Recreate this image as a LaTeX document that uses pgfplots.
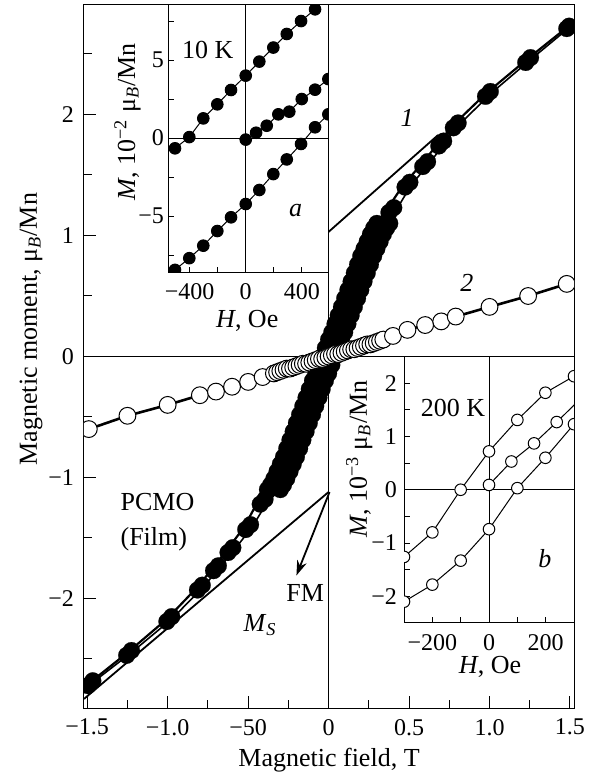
\documentclass[border=0pt]{standalone}
\usepackage{fontspec}
\setmainfont{Liberation Serif}
\usepackage{pgfplots}
\pgfplotsset{compat=1.18}
\usetikzlibrary{arrows.meta}
\newcommand\fa{\fontsize{12}{14}\selectfont}
\newcommand\fb{\fontsize{13}{15}\selectfont}
\begin{document}
\begin{tikzpicture}
\useasboundingbox (-42pt,-33.5pt) rectangle (254.5pt,354pt);
\begin{axis}[
  at={(0pt,0pt)}, anchor=south west, scale only axis, width=245pt, height=351.5pt,
  xmin=-1.52, xmax=1.525, ymin=-2.905, ymax=2.905,
  axis line style={line width=0.5pt},
  tick pos=left, tick align=inside,
  major tick length=6pt, minor tick length=4pt,
  tick style={black, line width=0.5pt},
  xtick={-1.5,-1,-0.5,0,0.5,1,1.5},
  xticklabels={−1.5,−1.0,−50,0,0.5,1.0,1.5},
  minor xtick={-1.25,-0.75,-0.25,0.25,0.75,1.25},
  ytick={-2,-1,0,1,2}, yticklabels={−2,−1,0,1,2},
  minor ytick={-2.5,-1.5,-0.5,0.5,1.5,2.5},
  tick label style={font=\fa},
  xticklabel style={yshift=-2pt},
  yticklabel style={xshift=-1.5pt},
  xlabel={Magnetic field, T},
  ylabel={Magnetic moment, μ\textsubscript{\textit{B}}/Mn},
  label style={font=\fb},
  xlabel style={at={(axis description cs:0.5,-0.0825)}, anchor=base},
  ylabel style={at={(axis description cs:-0.096,0.539)}, anchor=base},
  clip marker paths=true,
]
\addplot[black, line width=0.5pt] coordinates {(0,-2.905) (0,2.905)};
\addplot[black, line width=0.5pt] coordinates {(-1.52,0) (1.525,0)};
\addplot[black, line width=0.9pt] coordinates {(-1.52,-2.83) (0,-1.12)};
\addplot[black, line width=0.9pt] coordinates {(0,1.03) (0.68,1.83)};
% curve 1, descending branch (line)
\addplot[black, line width=1.1pt] coordinates {
(1.472,2.71) (1.228,2.45) (0.975,2.17) (0.772,1.91) (0.68,1.76) (0.578,1.59) (0.465,1.42) (0.36,1.21)
(0.30,1.10) (0.20,0.83) (0.10,0.48) (0.00,0.14) (-0.10,-0.20) (-0.20,-0.55) (-0.30,-0.89) (-0.38,-1.10)
(-0.44,-1.20) (-0.525,-1.41) (-0.632,-1.60) (-0.72,-1.75) (-0.818,-1.91) (-1.005,-2.17) (-1.252,-2.45) (-1.488,-2.70)};
% curve 1, ascending branch (line)
\addplot[black, line width=0.8pt] coordinates {
(-1.472,-2.70) (-1.228,-2.45) (-0.975,-2.17) (-0.782,-1.91) (-0.68,-1.75) (-0.588,-1.60) (-0.475,-1.41) (-0.38,-1.20)
(-0.30,-1.10) (-0.20,-0.83) (-0.10,-0.48) (0.00,-0.14) (0.10,0.20) (0.20,0.55) (0.30,0.89) (0.38,1.10)
(0.42,1.21) (0.515,1.42) (0.622,1.59) (0.72,1.76) (0.808,1.91) (1.005,2.17) (1.252,2.45) (1.488,2.71)};
% curve 1, measured points at high field (two runs)
\addplot[black, only marks, mark=*, mark size=4.2pt, mark options={solid, line width=0.1pt}] coordinates {
(1.48,2.71) (1.225,2.43) (0.975,2.15) (0.775,1.89) (0.685,1.74) (0.585,1.57) (0.475,1.40) (0.375,1.19)
(-0.395,-1.18) (-0.485,-1.39) (-0.595,-1.58) (-0.685,-1.73) (-0.785,-1.89) (-0.975,-2.15) (-1.225,-2.43) (-1.465,-2.68)};
\addplot[black, only marks, mark=*, mark size=4.2pt, mark options={solid, line width=0.1pt}] coordinates {
(1.495,2.73) (1.255,2.47) (1.005,2.19) (0.805,1.93) (0.715,1.78) (0.615,1.61) (0.505,1.44) (0.405,1.23)
(-0.425,-1.22) (-0.515,-1.43) (-0.625,-1.62) (-0.715,-1.77) (-0.815,-1.93) (-1.005,-2.19) (-1.255,-2.47) (-1.495,-2.72)};
% curve 1, dense points, descending branch
\addplot[black, only marks, mark=*, mark size=4.2pt, mark options={solid, line width=0.1pt}] coordinates {
(0.30,1.10) (0.28,1.06) (0.26,1.01) (0.24,0.95) (0.22,0.89) (0.20,0.83) (0.18,0.76) (0.16,0.69) (0.14,0.62)
(0.12,0.55) (0.10,0.48) (0.08,0.41) (0.06,0.34) (0.04,0.27) (0.02,0.20) (0.00,0.14) (-0.02,0.07) (-0.04,0)
(-0.06,-0.07) (-0.08,-0.14) (-0.10,-0.20) (-0.12,-0.27) (-0.14,-0.34) (-0.16,-0.41) (-0.18,-0.48) (-0.20,-0.55)
(-0.22,-0.62) (-0.24,-0.69) (-0.26,-0.76) (-0.28,-0.83) (-0.30,-0.89) (-0.32,-0.95) (-0.34,-1.01) (-0.36,-1.06) (-0.38,-1.10)};
% curve 1, dense points, ascending branch
\addplot[black, only marks, mark=*, mark size=4.2pt, mark options={solid, line width=0.1pt}] coordinates {
(-0.30,-1.10) (-0.28,-1.06) (-0.26,-1.01) (-0.24,-0.95) (-0.22,-0.89) (-0.20,-0.83) (-0.18,-0.76) (-0.16,-0.69)
(-0.14,-0.62) (-0.12,-0.55) (-0.10,-0.48) (-0.08,-0.41) (-0.06,-0.34) (-0.04,-0.27) (-0.02,-0.20) (0.00,-0.14)
(0.02,-0.07) (0.04,0) (0.06,0.07) (0.08,0.14) (0.10,0.20) (0.12,0.27) (0.14,0.34) (0.16,0.41) (0.18,0.48)
(0.20,0.55) (0.22,0.62) (0.24,0.69) (0.26,0.76) (0.28,0.83) (0.30,0.89) (0.32,0.95) (0.34,1.01) (0.36,1.06) (0.38,1.10)};
% curve 2
\addplot[black, line width=1.3pt, mark=*, mark size=4.2pt, mark options={solid, fill=white, line width=0.5pt}] coordinates {
(-1.49,-0.60) (-1.25,-0.49) (-1.0,-0.40) (-0.8,-0.32) (-0.7,-0.29) (-0.6,-0.25) (-0.5,-0.21) (-0.41,-0.17)
(-0.34,-0.14) (-0.32,-0.13) (-0.30,-0.12) (-0.28,-0.11) (-0.26,-0.10) (-0.24,-0.10) (-0.22,-0.09) (-0.20,-0.08)
(-0.18,-0.07) (-0.16,-0.06) (-0.14,-0.06) (-0.12,-0.05) (-0.10,-0.04) (-0.08,-0.03) (-0.06,-0.02) (-0.04,-0.02)
(-0.02,-0.01) (0,0) (0.02,0.01) (0.04,0.02) (0.06,0.02) (0.08,0.03) (0.10,0.04) (0.12,0.05) (0.14,0.06) (0.16,0.06)
(0.18,0.07) (0.20,0.08) (0.22,0.09) (0.24,0.10) (0.26,0.10) (0.28,0.11) (0.30,0.12) (0.32,0.13) (0.34,0.14)
(0.40,0.17) (0.49,0.22) (0.60,0.26) (0.70,0.29) (0.79,0.33) (1.0,0.41) (1.24,0.50) (1.48,0.60)};
\draw[-{Stealth[length=7.5pt,width=5pt]}, line width=0.9pt] (axis cs:0.006,-1.12) -- (axis cs:-0.20,-1.81);
\node[font=\fb\itshape, anchor=base] at (axis cs:0.488,1.897) {1};
\node[font=\fb\itshape, anchor=base] at (axis cs:0.86,0.533) {2};
\node[font=\fb, anchor=base west, inner sep=0pt] at (axis cs:-1.295,-1.269) {PCMO};
\node[font=\fb, anchor=base west, inner sep=0pt] at (axis cs:-1.295,-1.558) {(Film)};
\node[font=\fb, anchor=base] at (axis cs:-0.146,-2.026) {FM};
\node[font=\fb, anchor=base west, inner sep=0pt] at (axis cs:-0.531,-2.274) {\textit{M}\textsubscript{\textit{S}}};
\end{axis}
% inset a
\begin{axis}[
  at={(42pt,217.5pt)}, anchor=south west, scale only axis, width=80.25pt, height=134pt,
  xmin=-555, xmax=591, ymin=-8.65, ymax=8.53,
  axis background/.style={fill=white},
  axis line style={line width=0.5pt},
  tick pos=left, tick align=inside, major tick length=3pt,
  tick style={black, line width=0.5pt},
  xtick={-400,-200,0,200,400}, xticklabels={−400,,0,,400},
  ytick={-7.5,-5,-2.5,0,2.5,5,7.5}, yticklabels={,−5,,0,,5,},
  tick label style={font=\fa},
  xticklabel style={yshift=-1.5pt},
  yticklabel style={xshift=1.5pt},
  xlabel={\textit{H}, Oe},
  ylabel={\textit{M}, 10\textsuperscript{−2} μ\textsubscript{\textit{B}}/Mn},
  label style={font=\fb},
  xlabel style={at={(axis description cs:0.494,-0.205)}, anchor=base},
  ylabel style={at={(axis description cs:-0.205,0.565)}, anchor=base},
  clip marker paths=true,
]
\addplot[black, line width=0.5pt] coordinates {(0,-8.65) (0,8.53)};
\addplot[black, line width=0.5pt] coordinates {(-555,0) (591,0)};
\addplot[black, line width=0.5pt, mark=*, mark size=2.9pt] coordinates {
(-505,-0.66) (-403,0.06) (-303,1.26) (-203,2.16) (-105,3.08) (0,4.0) (97,4.9) (197,5.8) (293,6.67) (395,7.5) (495,8.25)};
\addplot[black, line width=0.5pt, mark=*, mark size=2.9pt] coordinates {
(0,-0.1) (74,0.34) (150,0.79) (233,1.52) (311,1.69) (400,2.5) (495,3.1) (590,3.78)};
\addplot[black, line width=0.5pt, mark=*, mark size=2.9pt] coordinates {
(-505,-8.45) (-403,-7.7) (-303,-6.9) (-203,-5.96) (-105,-5.08) (0,-4.23) (97,-3.33) (197,-2.31) (293,-1.37) (395,-0.38) (495,0.69) (590,1.52)};
\node[font=\fb, anchor=base] at (axis description cs:0.248,0.802) {10 K};
\node[font=\fb\itshape, anchor=base] at (axis description cs:0.795,0.209) {a};
\end{axis}
% inset b
\begin{axis}[
  at={(160pt,42.5pt)}, anchor=south west, scale only axis, width=85pt, height=133.25pt,
  xmin=-300, xmax=300, ymin=-2.5, ymax=2.5,
  axis background/.style={fill=white},
  axis line style={line width=0.5pt},
  tick pos=left, tick align=inside, major tick length=3pt,
  tick style={black, line width=0.5pt},
  xtick={-200,-100,0,100,200}, xticklabels={−200,,0,,200},
  ytick={-2,-1.5,-1,-0.5,0,0.5,1,1.5,2}, yticklabels={−2,,−1,,0,,1,,2},
  tick label style={font=\fa},
  xticklabel style={yshift=-2pt},
  xlabel={\textit{H}, Oe},
  ylabel={\textit{M}, 10\textsuperscript{−3} μ\textsubscript{\textit{B}}/Mn},
  label style={font=\fb},
  xlabel style={at={(axis description cs:0.506,-0.189)}, anchor=base},
  ylabel style={at={(axis description cs:-0.219,0.615)}, anchor=base},
  clip marker paths=true,
]
\addplot[black, line width=0.5pt] coordinates {(0,-2.5) (0,2.5)};
\addplot[black, line width=0.5pt] coordinates {(-300,0) (300,0)};
\addplot[black, line width=0.5pt, mark=*, mark size=2.9pt, mark options={fill=white}] coordinates {
(-300,-1.26) (-200,-0.80) (-100,0.0) (0,0.72) (100,1.31) (199,1.82) (300,2.13)};
\addplot[black, line width=0.5pt, mark=*, mark size=2.9pt, mark options={fill=white}] coordinates {
(0,0.09) (79,0.53) (159,0.87) (239,1.27) (318,1.68)};
\addplot[black, line width=0.5pt, mark=*, mark size=2.9pt, mark options={fill=white}] coordinates {
(-300,-2.1) (-200,-1.78) (-100,-1.33) (0,-0.74) (100,0.03) (199,0.6) (300,1.23)};
\node[font=\fb, anchor=base] at (axis description cs:0.288,0.774) {200 K};
\node[font=\fb\itshape, anchor=base] at (axis description cs:0.829,0.2075) {b};
\end{axis}
\end{tikzpicture}
\end{document}
